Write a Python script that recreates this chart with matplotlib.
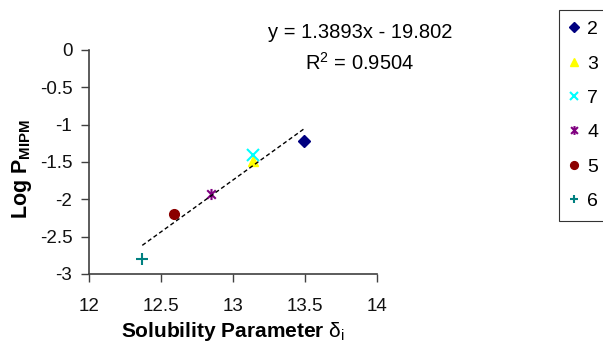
import matplotlib
matplotlib.use('Agg')
import matplotlib.pyplot as plt
import numpy as np
from matplotlib.path import Path

plt.rcParams['font.family'] = ['Liberation Sans', 'DejaVu Sans']
plt.rcParams['mathtext.fontset'] = 'custom'
plt.rcParams['mathtext.rm'] = 'Liberation Sans'
plt.rcParams['mathtext.bf'] = 'Liberation Sans:bold'

# Data
labels = ['2', '3', '7', '4', '5', '6']
delta = [13.49, 13.14, 13.14, 12.85, 12.59, 12.37]
log_p = [-1.22, -1.48, -1.40, -1.93, -2.19, -2.80]
colors = ['#000080', '#FFFF00', '#00FFFF', '#800080', '#8B0000', '#008080']

# trend line reported on the chart
slope, intercept = 1.3893, -19.802
r_squared = 0.9504

# Excel-style star: x plus a vertical bar
star = Path([(-1, -1), (1, 1), (-1, 1), (1, -1), (0, -1.3), (0, 1.3)],
            [Path.MOVETO, Path.LINETO, Path.MOVETO, Path.LINETO,
             Path.MOVETO, Path.LINETO])
markers = ['D', '^', 'x', star, 'o', '+']
sizes = [6, 7, 8, 8, 7, 8]

fig = plt.figure(figsize=(6.03, 3.43), dpi=100)
ax = fig.add_axes([89 / 603, 1 - 274 / 343, (377 - 89) / 603, (274 - 50) / 343])

for lab, x, y, c, m, s in zip(labels, delta, log_p, colors, markers, sizes):
    ax.plot(x, y, linestyle='none', marker=m, color=c, markersize=s,
            markeredgewidth=1.5 if m in ('x', '+') or m is star else 1,
            label=lab)

xs = np.array([min(delta), max(delta)])
ax.plot(xs, slope * xs + intercept, color='black', linestyle=(0, (3, 2)),
        linewidth=1)

ax.set_xlim(12, 14)
ax.set_ylim(-3, 0)
ax.set_xticks([12, 12.5, 13, 13.5, 14])
ax.set_xticklabels(['12', '12.5', '13', '13.5', '14'])
ax.set_yticks([0, -0.5, -1, -1.5, -2, -2.5, -3])
ax.set_yticklabels(['0', '-0.5', '-1', '-1.5', '-2', '-2.5', '-3'])
ax.tick_params(direction='out', length=6, width=1, colors='#404040',
               labelcolor='#111111', labelsize=13.5)
ax.tick_params(axis='x', pad=11)
ax.tick_params(axis='y', pad=6)
for side in ['top', 'right']:
    ax.spines[side].set_visible(False)
for side in ['left', 'bottom']:
    ax.spines[side].set_color('#404040')
    ax.spines[side].set_linewidth(1.2)

ax.set_xlabel(r'Solubility Parameter $\mathrm{\delta_i}$', fontsize=15,
              fontweight='bold')
ax.set_ylabel(r'Log P$_\mathbf{MIPM}$', fontsize=15.5, fontweight='bold')
ax.xaxis.set_label_coords(0.5, -0.205)
ax.yaxis.set_label_coords(-0.19, 0.47)

fig.text(360 / 603, 1 - 33 / 343, f'y = {slope}x - {abs(intercept)}',
         ha='center', va='center', fontsize=14.5)
fig.text(360 / 603, 1 - 63 / 343, f'R$^2$ = {r_squared}',
         ha='center', va='center', fontsize=14.5)

leg = fig.legend(loc='upper left', bbox_to_anchor=(559 / 603, 1 - 10 / 343),
                 fontsize=14, frameon=True, fancybox=False, edgecolor='black',
                 handlelength=0.45, handletextpad=0.45, labelspacing=0.86,
                 borderpad=0.55, borderaxespad=0, markerscale=0.8)
leg.get_frame().set_linewidth(0.8)

fig.savefig('out.png', dpi=100, facecolor='white')
